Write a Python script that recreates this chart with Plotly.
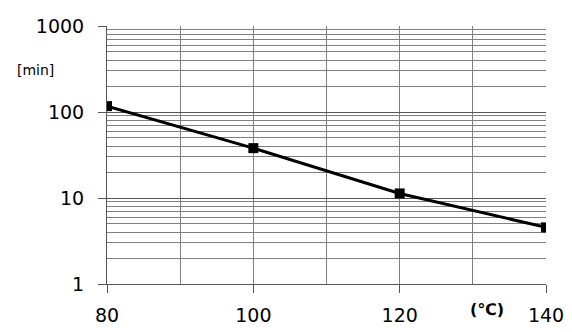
import plotly.graph_objects as go

temps = [80, 100, 120, 140]
minutes = [117, 38, 11.3, 4.55]
x_ticks = [80, 100, 120, 140]
y_ticks = [1, 10, 100, 1000]
y_labels = ["1", "10", "100", "1000"]

fig = go.Figure()
fig.add_trace(go.Scatter(
    x=temps, y=minutes, mode="lines+markers",
    line=dict(color="black", width=3),
    marker=dict(symbol="square", size=10, color="black"),
    showlegend=False,
))

fam = "DejaVu Sans, Verdana, sans-serif"
font = dict(family=fam, size=19, color="black")
grid = "#808080"

fig.update_layout(
    width=572, height=332,
    margin=dict(l=107, r=26, t=26, b=48),
    paper_bgcolor="white", plot_bgcolor="white",
    font=font,
    xaxis=dict(
        range=[80, 140], tickvals=x_ticks, ticks="outside", ticklen=8,
        tickcolor="#555", showline=True, linecolor="#555", linewidth=1,
        showgrid=True, gridcolor=grid, gridwidth=1,
        minor=dict(dtick=10, showgrid=True, gridcolor=grid, gridwidth=1),
        ticklabelstandoff=6, zeroline=False, automargin=False,
    ),
    yaxis=dict(
        type="log", range=[0, 3], tickvals=y_ticks, ticktext=y_labels,
        ticks="outside", ticklen=8, tickcolor="#555",
        showline=True, linecolor="#555", linewidth=1,
        showgrid=True, gridcolor="#555", gridwidth=1,
        minor=dict(dtick="D1", showgrid=True, gridcolor=grid, gridwidth=1),
        ticklabelstandoff=10, zeroline=False, automargin=False,
    ),
    annotations=[
        dict(text="[min]", xref="paper", yref="paper", x=-0.162, y=0.83,
             xanchor="center", yanchor="middle", showarrow=False,
             font=dict(family=fam, size=14, color="black")),
        dict(text="<b>(℃)</b>", xref="paper", yref="paper", x=0.866, y=-0.10,
             xanchor="center", yanchor="middle", showarrow=False,
             font=dict(family=fam, size=16, color="black")),
    ],
)

fig.write_html("out.html")
